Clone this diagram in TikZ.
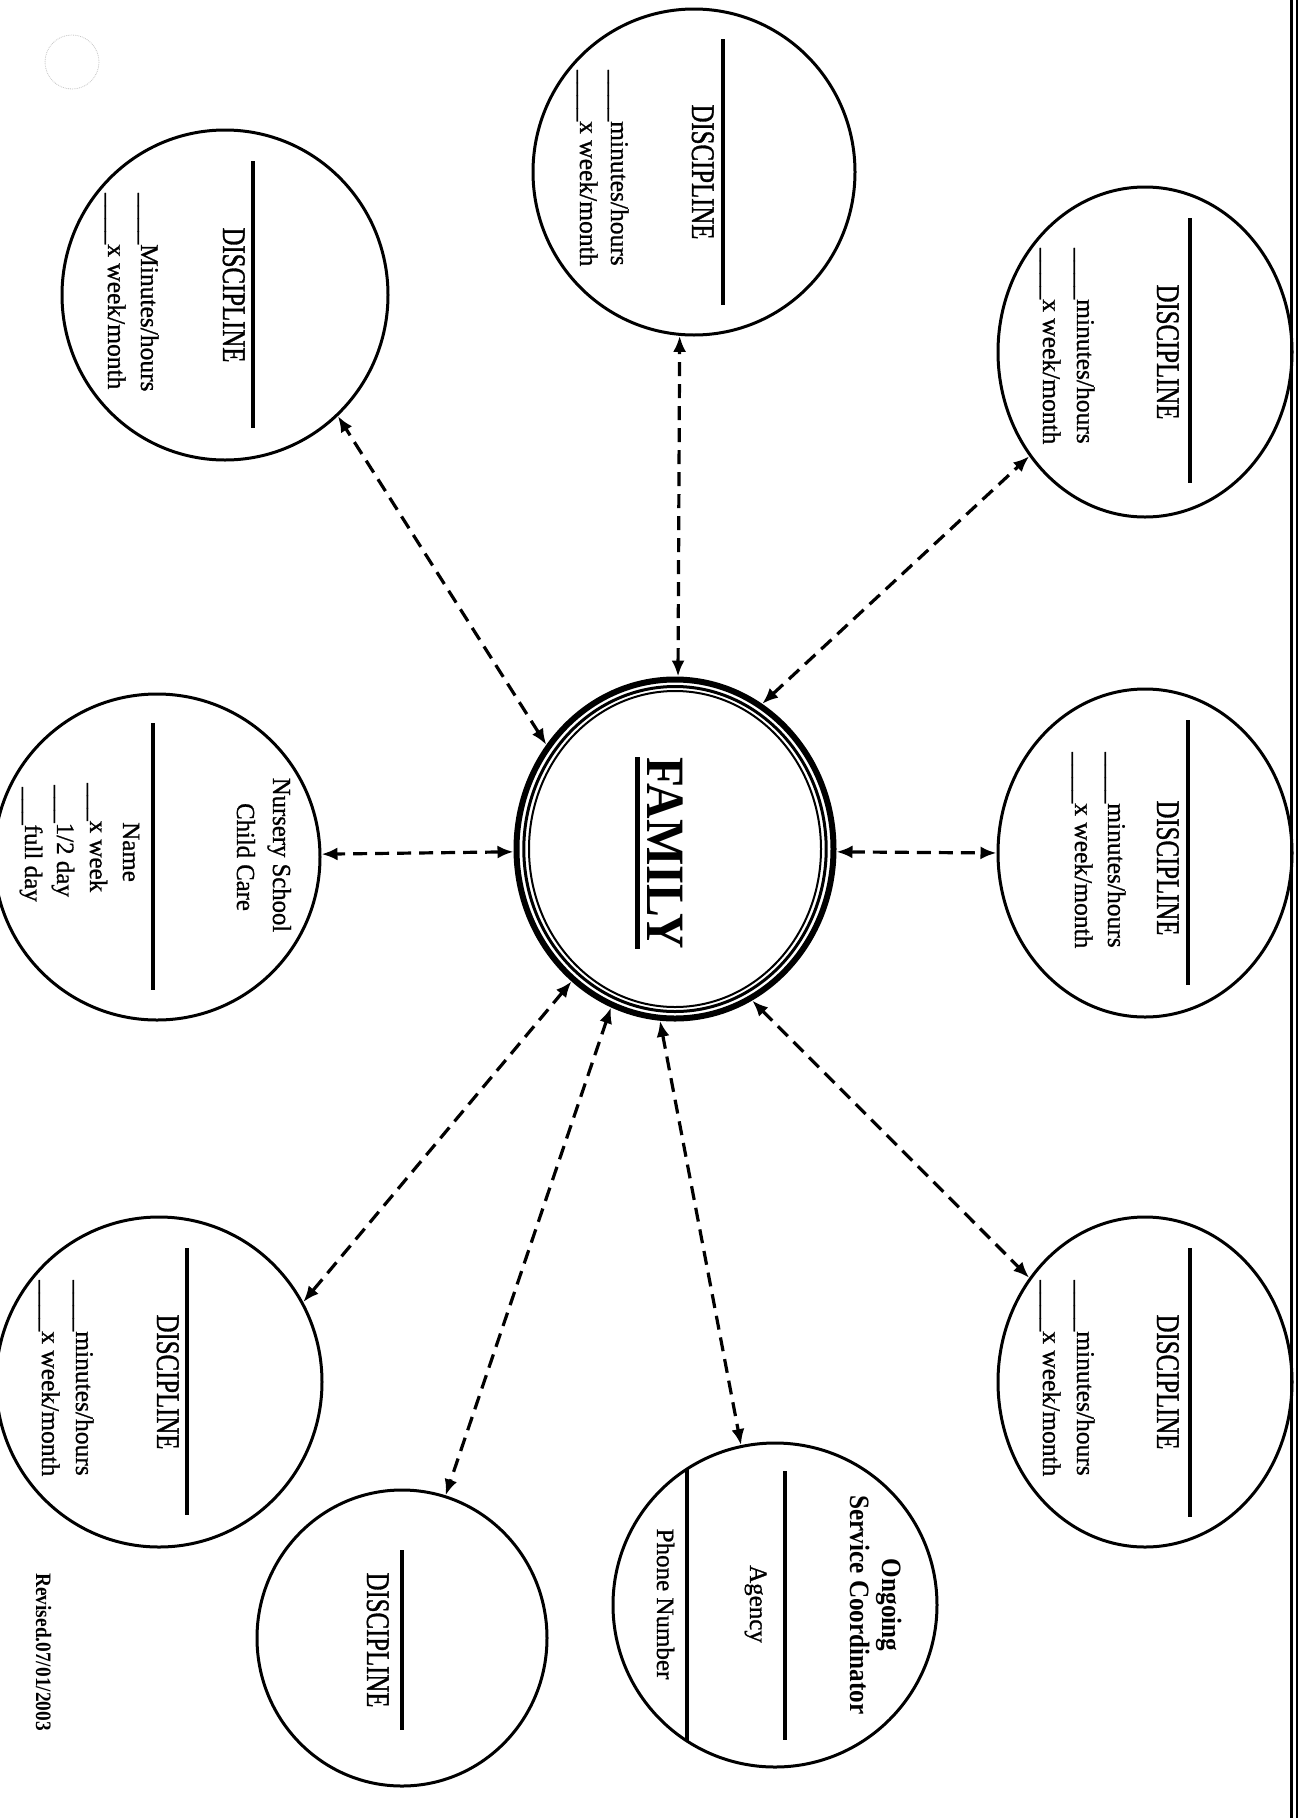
\documentclass[tikz,border=0pt]{standalone}
\usepackage{fontspec}
\setmainfont{Liberation Serif}
\newfontfamily\txtfont[FakeBold=0.9]{Liberation Serif}
\newfontfamily\discfont[FakeStretch=0.75,FakeBold=1.0]{Liberation Serif}
\newfontfamily\nursfont[FakeStretch=0.95,FakeBold=0.9]{Liberation Serif}
\newfontfamily\coordfont[FakeStretch=0.9]{Liberation Serif}
\newfontfamily\famfont[FakeStretch=0.91]{Liberation Serif}
\newfontfamily\revfont[FakeStretch=0.88]{Liberation Serif}
\usetikzlibrary{shapes.geometric,arrows.meta,calc}
\newcommand{\fourblank}{\_\_\_\_}
\newcommand{\threeblank}{\_\_\_}
\begin{document}
\begin{tikzpicture}[x=1pt,y=1pt,
  bubble/.style 2 args={draw,ellipse,line width=3pt,inner sep=0pt,minimum width=#1,minimum height=#2},
  famring/.style={draw,ellipse,line width=6pt,inner sep=0pt,minimum width=339,minimum height=317},
  conn/.style={line width=3.2pt,dash pattern=on 14pt off 8pt,{Latex[length=16pt,width=13pt]}-{Latex[length=16pt,width=13pt]}},
  blank/.style={line width=4pt},
  disc/.style={inner sep=0pt,anchor=base,font=\discfont\fontsize{33}{36}\selectfont},
  lbl/.style={inner sep=0pt,anchor=base west,font=\txtfont\fontsize{25.5}{28}\selectfont},
  nurs/.style={inner sep=0pt,anchor=base,font=\nursfont\fontsize{26}{28}\selectfont},
  plain/.style={inner sep=0pt,anchor=base,font=\txtfont\fontsize{25}{28}\selectfont},
  coord/.style={inner sep=0pt,anchor=base,font=\coordfont\bfseries\fontsize{28}{30}\selectfont},
  famtext/.style={inner sep=0pt,anchor=base,font=\famfont\bfseries\fontsize{54}{60}\selectfont},
  revtext/.style={inner sep=0pt,anchor=base,font=\revfont\bfseries\fontsize{22}{24}\selectfont}]
\fill[white] (0,-1818) rectangle (1298,0);
\useasboundingbox (0,-1818) rectangle (1298,0);
% right page border (double line)
\draw[line width=2.5pt] (1291.5,0) -- (1291.5,-1818);
\draw[line width=2pt] (1296.5,0) -- (1296.5,-1818);
\begin{scope}[rotate=-90,transform shape]
  % hole punch trace
  \draw[gray!45,densely dotted,line width=0.8pt] (62,72) circle (27);
  % central node
  \node[famring] (fam) at (849,675) {};
  \draw[line width=3pt] (fam.center) ellipse [x radius=162.5, y radius=151.2];
  \draw[line width=2pt] (fam.center) ellipse [x radius=158, y radius=146];
  \node[famtext] (famt) at ($(fam.center)+(4,-28)$) {FAMILY};
  \draw[line width=5pt] ($(famt.base west)+(0,-10)$) -- ($(famt.base east)+(0,-10)$);
  % outer bubbles
  \node[bubble={330}{326}] (c1) at (295,225) {};
  \node[bubble={326}{322}] (c2) at (172,694) {};
  \node[bubble={330}{294}] (c3) at (352,1145) {};
  \node[bubble={328}{294}] (c4) at (853,1145) {};
  \node[bubble={330}{294}] (c5) at (1382,1145) {};
  \node[bubble={326}{326}] (nurs) at (857,157) {};
  \node[bubble={330}{326}] (c6) at (1382,159) {};
  \node[bubble={296}{290}] (c7) at (1638,402) {};
  \node[bubble={324}{324}] (c8) at (1605,775) {};
  % c1
  \draw[blank] ($(c1)+(-134,28)$) -- ($(c1)+(133,28)$);
  \node[disc] (c1t) at ($(c1)+(0,-2)$) {DISCIPLINE};
  \node[lbl] (c1m) at ($(c1)+(-102,-84)$) {\fourblank Minutes/hours};
  \node[lbl] (c1w) at ($(c1)+(-102,-117)$) {\fourblank x week/month};
  % c2
  \draw[blank] ($(c2)+(-133,29)$) -- ($(c2)+(133,29)$);
  \node[disc] (c2t) at ($(c2)+(0,-2)$) {DISCIPLINE};
  \node[lbl] (c2m) at ($(c2)+(-102,-83)$) {\fourblank minutes/hours};
  \node[lbl] (c2w) at ($(c2)+(-102,-114)$) {\fourblank x week/month};
  % c3
  \draw[blank] ($(c3)+(-134,45)$) -- ($(c3)+(131,45)$);
  \node[disc] (c3t) at ($(c3)+(0,12)$) {DISCIPLINE};
  \node[lbl] (c3m) at ($(c3)+(-104,-68)$) {\fourblank minutes/hours};
  \node[lbl] (c3w) at ($(c3)+(-104,-102)$) {\fourblank x week/month};
  % c4
  \draw[blank] ($(c4)+(-133,43)$) -- ($(c4)+(132,43)$);
  \node[disc] (c4t) at ($(c4)+(15,12)$) {DISCIPLINE};
  \node[lbl] (c4m) at ($(c4)+(-101,-37)$) {\fourblank minutes/hours};
  \node[lbl] (c4w) at ($(c4)+(-101,-70)$) {\fourblank x week/month};
  % c5
  \draw[blank] ($(c5)+(-134,45)$) -- ($(c5)+(135,45)$);
  \node[disc] (c5t) at ($(c5)+(0,12)$) {DISCIPLINE};
  \node[lbl] (c5m) at ($(c5)+(-102,-68)$) {\fourblank minutes/hours};
  \node[lbl] (c5w) at ($(c5)+(-102,-102)$) {\fourblank x week/month};
  % c6
  \draw[blank] ($(c6)+(-134,28)$) -- ($(c6)+(133,28)$);
  \node[disc] (c6t) at ($(c6)+(0,-2)$) {DISCIPLINE};
  \node[lbl] (c6m) at ($(c6)+(-102,-83)$) {\fourblank minutes/hours};
  \node[lbl] (c6w) at ($(c6)+(-102,-117)$) {\fourblank x week/month};
  % c7
  \draw[blank] ($(c7)+(-88,0)$) -- ($(c7)+(92,0)$);
  \node[disc] (c7t) at ($(c7)+(2,-35)$) {DISCIPLINE};
  % nursery
  \node[nurs] (n1) at ($(nurs)+(-2,116)$) {Nursery School};
  \node[nurs] (n2) at ($(nurs)+(0,80)$) {Child Care};
  \draw[blank] ($(nurs)+(-134,-4)$) -- ($(nurs)+(133,-4)$);
  \node[plain] (n3) at ($(nurs)+(-5,-34)$) {Name};
  \node[lbl,font=\txtfont\fontsize{25}{28}\selectfont] (n4) at ($(nurs)+(-74,-67)$) {\threeblank x week};
  \node[lbl,font=\txtfont\fontsize{25}{28}\selectfont] (n5) at ($(nurs)+(-72,-100)$) {\threeblank 1/2 day};
  \node[lbl,font=\txtfont\fontsize{25}{28}\selectfont] (n6) at ($(nurs)+(-70,-132)$) {\threeblank full day};
  % service coordinator
  \node[coord] (s1) at ($(c8)+(0,107)$) {Ongoing};
  \node[coord] (s2) at ($(c8)+(0,75)$) {Service Coordinator};
  \draw[blank] ($(c8)+(-134,10)$) -- ($(c8)+(135,10)$);
  \node[plain] (s3) at ($(c8)+(-1,-25)$) {Agency};
  \draw[blank] ($(c8)+(-136,-88)$) -- ($(c8)+(136,-88)$);
  \node[plain] (s4) at ($(c8)+(-1,-118)$) {Phone Number};
  % revision note
  \node[revtext] (rev) at (1652,36) {Revised.07/01/2003};
  % connectors
  \draw[conn] (fam.231) -- (c1.43);
  \draw[conn] (fam.179) -- (c2.355);
  \draw[conn] (fam.149) -- (c3.312);
  \draw[conn] (fam.271) -- (nurs.91);
  \draw[conn] (fam.89) -- (c4.270);
  \draw[conn] (fam.27) -- (c5.228);
  \draw[conn] (fam.322) -- (c6.119);
  \draw[conn] (fam.338) -- (c7.163);
  \draw[conn] (fam.355) -- (c8.192);
\end{scope}
\end{tikzpicture}
\end{document}
